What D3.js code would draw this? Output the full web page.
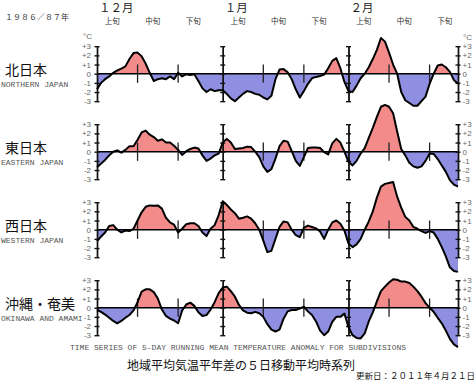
<!DOCTYPE html>
<html><head><meta charset="utf-8">
<script src="https://cdn.jsdelivr.net/npm/d3@7"></script>
<style>
html,body{margin:0;padding:0;background:#fff;}
svg{display:block;}
</style></head>
<body>
<svg id="chart" width="476" height="382"></svg>
<script>
// ---- data ----
const seasonLabel = "１９８６／８７年";
const months = ["１２月", "１月", "２月"];
const monthStartDay = [0, 31, 62];
const dekadLabels = ["上旬", "中旬", "下旬"];
const yTicks = [3, 2, 1, 0, -1, -2, -3];
const regionNames = ["北日本", "東日本", "西日本", "沖縄・奄美"];
const regionNamesEn = ["NORTHERN JAPAN", "EASTERN JAPAN", "WESTERN JAPAN", "OKINAWA AND AMAMI"];

// daily 5-day running mean anomaly (°C), Dec 1 1986 .. Feb 28 1987
const north = [-1.7,-1.0,-0.6,-0.3,0.1,0.35,0.55,0.8,1.6,2.25,
  2.3,1.9,1.1,0.1,-0.8,-0.6,-0.5,-0.6,-0.3,-0.6,
  0.1,-0.3,-0.05,-0.15,-0.05,-0.8,-1.6,-2.0,-1.7,-1.9,
  -1.8,-1.8,-2.2,-2.7,-3.0,-2.6,-2.2,-1.9,-2.0,-2.2,
  -2.3,-2.6,-2.8,-2.4,-0.6,0.45,0.5,0.15,-0.6,-1.7,
  -2.6,-1.9,-1.1,-0.5,-0.35,-0.25,-0.1,0.6,1.4,1.7,
  0.6,-0.9,-1.9,-2.0,-1.3,-0.5,0.0,0.7,1.6,2.6,
  3.9,3.5,2.3,1.0,0.0,-2.0,-2.9,-3.2,-3.5,-3.5,
  -3.0,-2.5,-1.1,0.0,0.9,1.0,0.7,0.2,-0.7,-1.1];
const east = [-1.7,-1.3,-0.9,-0.4,0.0,0.15,-0.1,0.2,0.6,0.6,
  1.3,2.1,2.3,1.85,1.6,1.2,1.35,1.0,1.0,0.65,
  0.2,-0.35,0.05,0.3,0.45,0.35,-0.4,-1.0,-0.75,-0.4,
  -0.2,1.0,1.4,1.0,0.3,0.35,0.4,0.55,0.5,0.0,
  -0.6,-1.6,-2.2,-1.9,-0.75,0.6,1.2,1.1,0.1,-1.0,
  -1.55,-0.6,0.4,0.45,0.45,0.4,-0.05,-0.3,0.9,1.4,
  1.0,0.0,-1.1,-1.5,-1.0,-0.2,0.4,1.5,2.6,3.8,
  4.9,5.1,4.9,4.2,2.2,0.3,-0.4,-1.2,-1.6,-1.75,
  -1.6,-1.0,-0.2,-0.25,-0.8,-1.5,-2.2,-3.1,-3.6,-3.8];
const west = [-1.25,-0.75,-0.3,0.4,0.5,0.0,-0.3,-0.1,-0.15,0.1,
  1.0,1.9,2.5,2.65,2.6,2.65,2.3,1.3,0.8,0.55,
  -0.3,0.1,0.6,0.7,0.7,0.4,-0.3,-0.7,0.1,0.5,
  1.6,3.1,2.7,2.2,1.8,1.2,1.3,1.45,1.2,0.7,
  0.0,-1.2,-2.45,-2.3,-1.0,0.3,0.9,0.8,0.0,-0.6,
  -0.8,0.2,0.45,0.3,0.15,-0.2,-1.0,0.0,0.8,1.0,
  0.65,-0.1,-1.5,-1.9,-1.6,-1.0,0.0,0.9,2.0,3.5,
  4.7,5.0,5.1,5.2,3.6,2.4,1.4,1.0,0.3,0.1,
  -0.15,-0.35,-0.15,-0.3,-1.0,-1.9,-2.9,-4.1,-4.5,-4.6];
const okinawa = [-0.25,-0.45,-0.75,-1.1,-1.45,-1.7,-1.45,-1.1,-0.8,-0.3,
  0.6,1.75,2.0,2.0,1.7,1.0,-0.2,-0.9,-1.2,-1.4,
  -1.7,-0.3,0.35,0.55,0.2,-0.5,-0.9,-0.8,-0.2,0.6,
  1.6,2.2,2.3,1.8,1.2,0.3,-0.3,-0.55,-0.6,-0.45,
  -0.6,-1.0,-1.8,-2.4,-2.6,-2.4,-1.2,-0.4,-0.25,-0.25,
  -0.1,0.1,-0.4,-0.8,-1.5,-2.5,-3.0,-2.6,-1.55,-1.0,
  -1.0,-0.65,-2.1,-3.0,-3.3,-3.35,-2.8,-1.5,-0.5,0.7,
  1.8,2.3,2.75,3.1,3.05,2.85,2.85,2.7,2.3,1.8,
  1.2,0.5,0.0,-0.45,-1.1,-1.7,-2.5,-3.4,-4.0,-4.3];
const seriesList = [north, east, west, okinawa];

const captionEn = "TIME SERIES OF 5-DAY RUNNING MEAN TEMPERATURE ANOMALY FOR SUBDIVISIONS";
const captionJa = "地域平均気温平年差の５日移動平均時系列";
const updated = "更新日：２０１１年４月２１日";

// ---- drawing ----
const svg = d3.select("#chart");
const x = d3.scaleLinear().domain([0, 89]).range([97, 458]);
const pink = "#f38b8b", blue = "#8f8fe2";
const jpFont = "'Noto Sans CJK JP', sans-serif";
const monoFont = "'Liberation Mono', 'DejaVu Sans Mono', monospace";

// header
svg.append("text").attr("x", 5).attr("y", 20).attr("font-family", jpFont)
  .attr("font-size", 8).attr("fill", "#333").text(seasonLabel);
months.forEach((m, i) => {
  svg.append("text").attr("x", x(monthStartDay[i]) + 2).attr("y", 12)
    .attr("font-family", jpFont).attr("font-size", 11.5).attr("fill", "#222").text(m);
  dekadLabels.forEach((dl, j) => {
    svg.append("text").attr("x", x(monthStartDay[i] + j * 10 + 3.75)).attr("y", 23.5)
      .attr("text-anchor", "middle").attr("font-family", jpFont)
      .attr("font-size", 7.5).attr("fill", "#333").text(dl);
  });
});

const defs = svg.append("defs");
const zeroBase = 73.7, panelGap = 78, halfH = 27.5;

seriesList.forEach((vals, p) => {
  const z = zeroBase + p * panelGap;
  const y = d3.scaleLinear().domain([-3, 3]).range([z + halfH, z - halfH]);
  const g = svg.append("g");

  defs.append("clipPath").attr("id", "up" + p).append("rect")
    .attr("x", 0).attr("y", 0).attr("width", 476).attr("height", z);
  defs.append("clipPath").attr("id", "dn" + p).append("rect")
    .attr("x", 0).attr("y", z).attr("width", 476).attr("height", 382 - z);

  const area = d3.area().x((d, i) => x(i)).y0(y(0)).y1(d => y(d));
  const line = d3.line().x((d, i) => x(i)).y(d => y(d));

  g.append("path").datum(vals).attr("d", area).attr("fill", pink).attr("clip-path", `url(#up${p})`);
  g.append("path").datum(vals).attr("d", area).attr("fill", blue).attr("clip-path", `url(#dn${p})`);

  g.append("line").attr("x1", x(0)).attr("x2", x(89)).attr("y1", y(0)).attr("y2", y(0))
    .attr("stroke", "#000").attr("stroke-width", 1.5);

  monthStartDay.forEach(ms => {
    [10, 20].forEach(k => {
      g.append("line").attr("x1", x(ms + k)).attr("x2", x(ms + k))
        .attr("y1", y(1)).attr("y2", y(-1)).attr("stroke", "#222").attr("stroke-width", 1.3);
    });
  });

  const fmt = d => d > 0 ? "+" + d : String(d);
  const styleAxis = sel => {
    sel.selectAll("path,line").attr("stroke", "#111").attr("stroke-width", 1.4);
    sel.selectAll("text").attr("fill", "#666").attr("font-size", 8)
      .attr("font-family", "'Liberation Sans', Arial, sans-serif");
  };
  g.append("g").attr("transform", `translate(${x(0)},0)`)
    .call(d3.axisLeft(y).tickValues(yTicks).tickSize(2.5).tickSizeOuter(0).tickPadding(3.5).tickFormat(fmt))
    .call(styleAxis);
  g.append("g").attr("transform", `translate(${x(0)},0)`)
    .call(d3.axisRight(y).tickValues(yTicks).tickSize(2.5).tickSizeOuter(0).tickFormat(""))
    .call(styleAxis);
  g.append("g").attr("transform", `translate(${x(89)},0)`)
    .call(d3.axisRight(y).tickValues(yTicks).tickSize(2.5).tickSizeOuter(0).tickPadding(2).tickFormat(fmt))
    .call(styleAxis);
  g.append("g").attr("transform", `translate(${x(89)},0)`)
    .call(d3.axisLeft(y).tickValues(yTicks).tickSize(2.5).tickSizeOuter(0).tickFormat(""))
    .call(styleAxis);
  [31, 62].forEach(ms => {
    g.append("g").attr("transform", `translate(${x(ms)},0)`)
      .call(d3.axisLeft(y).tickValues(yTicks).tickSize(2.5).tickSizeOuter(0).tickFormat(""))
      .call(styleAxis);
    g.append("g").attr("transform", `translate(${x(ms)},0)`)
      .call(d3.axisRight(y).tickValues(yTicks).tickSize(2.5).tickSizeOuter(0).tickFormat(""))
      .call(styleAxis);
  });

  g.append("path").datum(vals).attr("d", line).attr("fill", "none")
    .attr("stroke", "#000").attr("stroke-width", 2).attr("stroke-linejoin", "round");

  svg.append("text").attr("x", 5).attr("y", z + 1.5).attr("font-family", jpFont)
    .attr("font-size", 14).attr("fill", "#111").text(regionNames[p]);
  svg.append("text").attr("x", 1).attr("y", z + 13).attr("font-family", monoFont)
    .attr("font-size", 8).attr("fill", "#555").text(regionNamesEn[p]);

  if (p === 0) {
    svg.append("text").attr("x", 83).attr("y", z - 35).attr("font-family", "'Liberation Sans', Arial, sans-serif")
      .attr("font-size", 8).attr("fill", "#666").text("°C");
    svg.append("text").attr("x", 463).attr("y", z - 34).attr("font-family", "'Liberation Sans', Arial, sans-serif")
      .attr("font-size", 8).attr("fill", "#666").text("°C");
  }
});

// footer
svg.append("text").attr("x", 70).attr("y", 350).attr("font-family", monoFont)
  .attr("font-size", 8).attr("fill", "#555").text(captionEn);
svg.append("text").attr("x", 127).attr("y", 370).attr("font-family", jpFont)
  .attr("font-size", 12).attr("fill", "#111").text(captionJa);
svg.append("text").attr("x", 475).attr("y", 378.5).attr("text-anchor", "end").attr("font-family", jpFont)
  .attr("font-size", 8.5).attr("fill", "#111").text(updated);
</script>
</body></html>
